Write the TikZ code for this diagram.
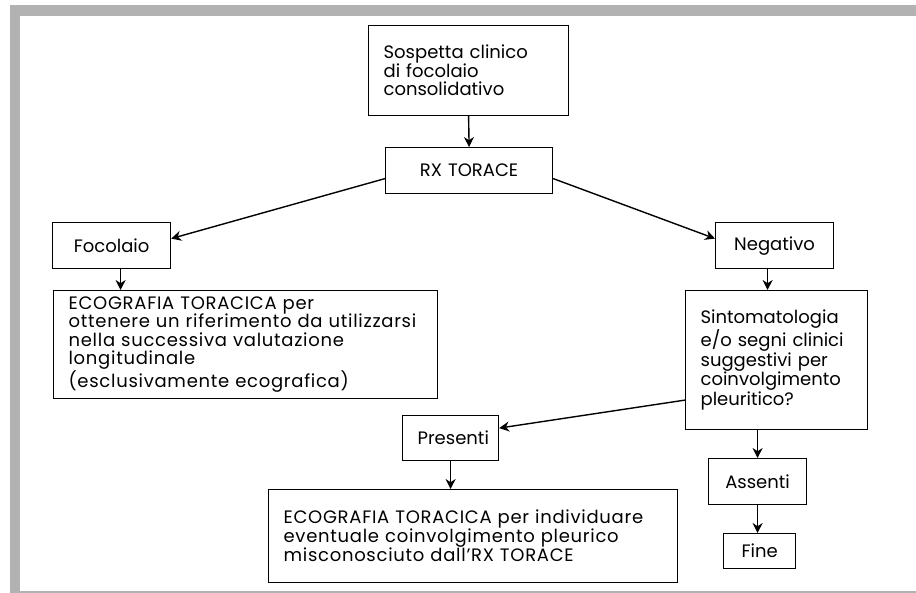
\documentclass[tikz,border=0pt]{standalone}
\usepackage{fontspec}
\setmainfont{Poppins}
\usetikzlibrary{arrows.meta,calc}
\definecolor{framegray}{RGB}{178,178,178}
\tikzset{
  box/.style={draw, line width=1.2pt, anchor=north west, inner xsep=15pt, inner ysep=0pt,
    align=left, font=\fontsize{18}{18.5}\selectfont},
  cbox/.style={box, align=center},
  widebox/.style={box, font=\fontsize{18}{18.5}\selectfont\addfontfeature{LetterSpace=4}},
  arr/.style={line width=1.4pt, -{Stealth[length=10pt,width=10pt]}}
}
\begin{document}
\begin{tikzpicture}[x=1pt,y=-1pt]
\useasboundingbox (0,0) rectangle (916,593);
% frame
\fill[framegray] (10,5) rectangle (916,16);
\fill[framegray] (10,5) rectangle (20,593);
\fill[framegray] (20,590.5) rectangle (916,593);
% boxes
\node[box, text width=170pt, minimum height=90pt] (sosp) at (368,25) {Sospetta clinico\\di focolaio\\consolidativo};
\node[cbox, text width=137pt, minimum height=46pt] (rx) at (385,147) {RX TORACE};
\node[cbox, text width=88pt, minimum height=46pt] (foc) at (52,222) {Focolaio};
\node[widebox, text width=354pt, minimum height=108pt] (eco1) at (53,290) {ECOGRAFIA TORACICA per\\ottenere un riferimento da utilizzarsi\\nella successiva valutazione\\longitudinale\\(esclusivamente ecografica)};
\node[cbox, text width=88pt, minimum height=46pt] (neg) at (715,222) {Negativo};
\node[box, text width=152pt, minimum height=139pt] (sint) at (685,290) {Sintomatologia\\e/o segni clinici\\suggestivi per\\coinvolgimento\\pleuritico?};
\node[cbox, text width=66pt, minimum height=45pt] (pres) at (402,415) {Presenti};
\node[widebox, text width=379pt, minimum height=93pt] (eco2) at (268,489) {ECOGRAFIA TORACICA per individuare\\eventuale coinvolgimento pleurico\\misconosciuto dall'RX TORACE};
\node[cbox, text width=68pt, minimum height=46pt] (ass) at (708,458) {Assenti};
\node[cbox, text width=42pt, minimum height=35pt] (fine) at (723,533) {Fine};
% connectors
\draw[arr] (sosp.south) -- (rx.north);
\draw[arr] ([yshift=-8pt]rx.west) -- ([yshift=7pt]foc.east);
\draw[arr] ([yshift=-8pt]rx.east) -- ([yshift=7pt]neg.west);
\draw[arr] ([xshift=9pt]foc.south) -- ([xshift=9pt]foc.south |- eco1.north);
\draw[arr] ([xshift=-7pt]neg.south) -- ([xshift=-7pt]neg.south |- sint.north);
\draw[arr] ([yshift=-40pt]sint.west) -- ([yshift=10pt]pres.east);
\draw[arr] (pres.south) -- (pres.south |- eco2.north);
\draw[arr] (ass.north |- sint.south) -- (ass.north);
\draw[arr] (ass.south) -- (ass.south |- fine.north);
\end{tikzpicture}
\end{document}
